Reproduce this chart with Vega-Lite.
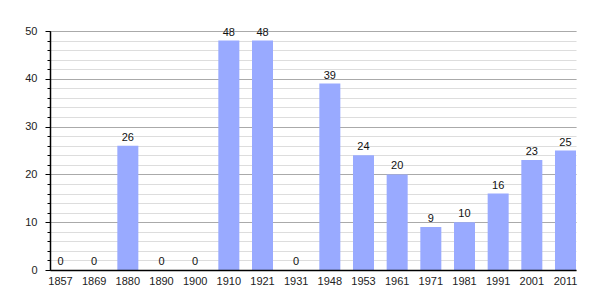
{
  "$schema": "https://vega.github.io/schema/vega-lite/v6.json",
  "width": 526,
  "height": 239,
  "autosize": "none",
  "padding": {"left": 50, "top": 31, "right": 29, "bottom": 30},
  "background": "white",
  "config": {
    "view": {"stroke": null},
    "font": "Liberation Sans",
    "axis": {"labelFont": "Liberation Sans", "labelFontSize": 11, "labelColor": "#222"}
  },
  "data": {
    "values": [
      {"year": "1857", "value": 0},
      {"year": "1869", "value": 0},
      {"year": "1880", "value": 26},
      {"year": "1890", "value": 0},
      {"year": "1900", "value": 0},
      {"year": "1910", "value": 48},
      {"year": "1921", "value": 48},
      {"year": "1931", "value": 0},
      {"year": "1948", "value": 39},
      {"year": "1953", "value": 24},
      {"year": "1961", "value": 20},
      {"year": "1971", "value": 9},
      {"year": "1981", "value": 10},
      {"year": "1991", "value": 16},
      {"year": "2001", "value": 23},
      {"year": "2011", "value": 25}
    ]
  },
  "encoding": {
    "x": {
      "field": "year",
      "type": "ordinal",
      "sort": null,
      "scale": {"paddingInner": 0.376, "paddingOuter": 0},
      "axis": {"title": null, "labelAngle": 0, "ticks": false, "domainColor": "#000", "domainWidth": 1.5, "labelPadding": 5, "zindex": 2}
    }
  },
  "layer": [
    {
      "mark": {"type": "bar", "color": "#99aaff"},
      "encoding": {
        "y": {
          "field": "value",
          "type": "quantitative",
          "scale": {"domain": [0, 50], "nice": false},
          "axis": {
            "title": null,
            "values": [0, 2, 4, 6, 8, 10, 12, 14, 16, 18, 20, 22, 24, 26, 28, 30, 32, 34, 36, 38, 40, 42, 44, 46, 48, 50],
            "labels": false,
            "grid": true,
            "gridColor": "#dddddd",
            "gridOpacity": 1,
            "tickColor": "#000",
            "tickSize": 3,
            "domain": false,
            "orient": "left",
            "zindex": 0
          }
        }
      }
    },
    {
      "mark": {"type": "text", "dy": -8, "fontSize": 11, "color": "#111", "font": "Liberation Sans"},
      "encoding": {
        "y": {
          "field": "value",
          "type": "quantitative",
          "scale": {"domain": [0, 50], "nice": false},
          "axis": {
            "title": null,
            "values": [0, 10, 20, 30, 40, 50],
            "grid": true,
            "gridColor": "#aaaaaa",
            "gridOpacity": 1,
            "tickColor": "#000",
            "tickSize": 5,
            "domainColor": "#000",
            "domainWidth": 1.5,
            "labelPadding": 8,
            "orient": "left",
            "zindex": 0
          }
        },
        "text": {"field": "value", "type": "quantitative"}
      }
    }
  ],
  "resolve": {"axis": {"y": "independent"}}
}
